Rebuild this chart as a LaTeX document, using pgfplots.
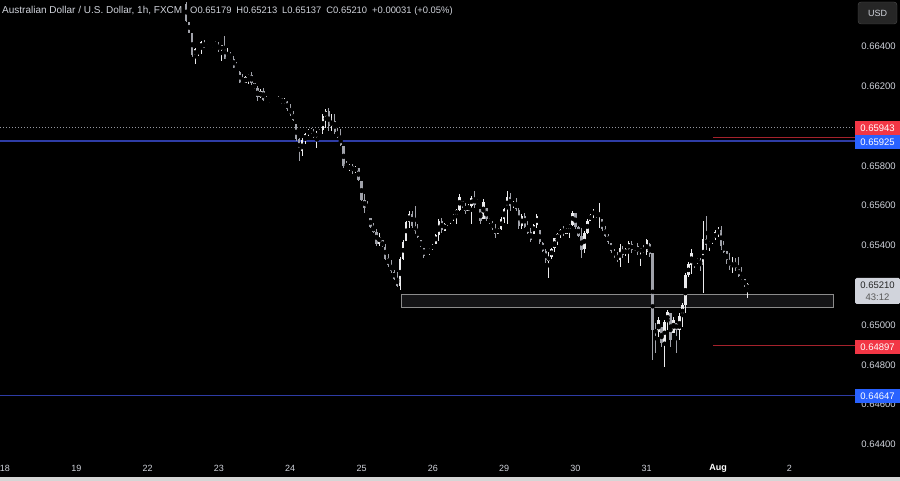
\documentclass[border=0pt]{standalone}
\usepackage{fontspec}
\setmainfont{Liberation Sans}
\usepackage{pgfplots}
\usepackage{pgfplotstable}
\pgfplotsset{compat=1.18}

\definecolor{bg}{RGB}{0,0,0}
\definecolor{txt}{RGB}{209,212,220}
\definecolor{upc}{RGB}{236,236,238}
\definecolor{dnc}{RGB}{160,162,170}
\definecolor{tvred}{RGB}{242,54,69}
\definecolor{tvblue}{RGB}{41,98,255}
\definecolor{lvlblue}{RGB}{46,60,165}
\definecolor{lvlred}{RGB}{165,34,44}
\definecolor{dotc}{RGB}{150,152,160}
\definecolor{zoneedge}{RGB}{140,140,140}
\definecolor{zonefill}{RGB}{20,20,22}

% hourly candles, x = hours since 18 Jul 00:00
\pgfplotstableread{
k o h l c
61 0.66615 0.66625 0.66525 0.66530
62 0.66525 0.66525 0.66465 0.66470
63 0.66465 0.66465 0.66350 0.66355
64 0.66355 0.66390 0.66310 0.66385
65 0.66385 0.66390 0.66350 0.66390
66 0.66390 0.66425 0.66360 0.66420
67 0.66420 0.66430 0.66390 0.66395
68 0.66395 0.66415 0.66390 0.66390
69 0.66390 0.66410 0.66385 0.66405
70 0.66405 0.66415 0.66390 0.66410
71 0.66410 0.66430 0.66400 0.66405
72 0.66405 0.66425 0.66375 0.66380
73 0.66380 0.66410 0.66325 0.66405
74 0.66405 0.66450 0.66335 0.66340
75 0.66340 0.66390 0.66335 0.66345
76 0.66345 0.66375 0.66335 0.66340
77 0.66340 0.66350 0.66290 0.66295
78 0.66295 0.66325 0.66285 0.66290
79 0.66275 0.66275 0.66215 0.66220
80 0.66220 0.66260 0.66210 0.66215
81 0.66215 0.66250 0.66215 0.66245
82 0.66245 0.66260 0.66210 0.66255
83 0.66255 0.66275 0.66210 0.66215
84 0.66215 0.66215 0.66185 0.66190
85 0.66190 0.66200 0.66125 0.66145
86 0.66145 0.66185 0.66140 0.66175
87 0.66175 0.66190 0.66125 0.66130
88 0.66130 0.66150 0.66125 0.66140
89 0.66140 0.66140 0.66115 0.66125
90 0.66125 0.66140 0.66125 0.66135
91 0.66135 0.66140 0.66125 0.66130
92 0.66130 0.66150 0.66125 0.66145
93 0.66140 0.66140 0.66110 0.66120
94 0.66120 0.66140 0.66110 0.66130
95 0.66125 0.66125 0.66075 0.66085
96 0.66085 0.66110 0.66050 0.66060
97 0.66060 0.66075 0.66025 0.66030
98 0.66010 0.66010 0.65925 0.65935
99 0.65935 0.65940 0.65825 0.65875
100 0.65875 0.65940 0.65850 0.65930
101 0.65930 0.65965 0.65910 0.65960
102 0.65960 0.65985 0.65950 0.65980
103 0.65980 0.65990 0.65960 0.65970
104 0.65970 0.65985 0.65940 0.65945
105 0.65945 0.65975 0.65890 0.65965
106 0.65965 0.65985 0.65960 0.65980
107 0.65980 0.66060 0.65960 0.66050
108 0.66050 0.66085 0.65990 0.66075
109 0.66075 0.66090 0.65975 0.66000
110 0.66000 0.66060 0.65975 0.66025
111 0.66025 0.66060 0.65960 0.65970
112 0.65970 0.65990 0.65940 0.65945
113 0.65945 0.65985 0.65900 0.65905
114 0.65900 0.65900 0.65790 0.65800
115 0.65800 0.65825 0.65785 0.65790
116 0.65790 0.65810 0.65775 0.65800
117 0.65800 0.65810 0.65760 0.65775
118 0.65775 0.65800 0.65765 0.65790
119 0.65790 0.65790 0.65725 0.65730
120 0.65725 0.65725 0.65625 0.65630
121 0.65630 0.65660 0.65565 0.65590
122 0.65590 0.65625 0.65575 0.65580
123 0.65540 0.65540 0.65490 0.65495
124 0.65495 0.65515 0.65465 0.65470
125 0.65470 0.65485 0.65400 0.65410
126 0.65410 0.65465 0.65400 0.65445
127 0.65425 0.65425 0.65390 0.65395
128 0.65395 0.65410 0.65325 0.65335
129 0.65335 0.65360 0.65290 0.65300
130 0.65300 0.65325 0.65260 0.65270
131 0.65270 0.65275 0.65225 0.65235
132 0.65235 0.65265 0.65190 0.65200
133 0.65200 0.65340 0.65175 0.65335
134 0.65335 0.65425 0.65325 0.65420
135 0.65425 0.65525 0.65425 0.65520
136 0.65520 0.65575 0.65490 0.65560
137 0.65560 0.65575 0.65490 0.65500
138 0.65500 0.65600 0.65460 0.65475
139 0.65475 0.65510 0.65440 0.65445
140 0.65425 0.65425 0.65390 0.65395
141 0.65390 0.65390 0.65340 0.65350
142 0.65360 0.65375 0.65360 0.65370
143 0.65370 0.65385 0.65350 0.65380
144 0.65380 0.65410 0.65375 0.65405
145 0.65410 0.65460 0.65410 0.65455
146 0.65455 0.65535 0.65425 0.65525
147 0.65525 0.65540 0.65460 0.65475
148 0.65475 0.65515 0.65475 0.65510
149 0.65510 0.65525 0.65500 0.65520
150 0.65520 0.65540 0.65510 0.65535
151 0.65535 0.65560 0.65525 0.65555
152 0.65555 0.65585 0.65510 0.65580
153 0.65580 0.65660 0.65575 0.65645
154 0.65625 0.65625 0.65590 0.65600
155 0.65600 0.65615 0.65560 0.65575
156 0.65575 0.65610 0.65575 0.65600
157 0.65600 0.65650 0.65510 0.65640
158 0.65640 0.65675 0.65590 0.65605
159 0.65610 0.65635 0.65610 0.65625
160 0.65585 0.65585 0.65510 0.65525
161 0.65535 0.65635 0.65535 0.65620
162 0.65590 0.65590 0.65525 0.65535
163 0.65535 0.65540 0.65510 0.65515
164 0.65515 0.65525 0.65475 0.65485
165 0.65485 0.65510 0.65440 0.65460
166 0.65460 0.65490 0.65460 0.65485
167 0.65485 0.65540 0.65475 0.65535
168 0.65535 0.65590 0.65515 0.65585
169 0.65585 0.65675 0.65510 0.65645
170 0.65645 0.65665 0.65575 0.65600
171 0.65600 0.65625 0.65590 0.65615
172 0.65615 0.65640 0.65575 0.65580
173 0.65580 0.65590 0.65485 0.65500
174 0.65500 0.65560 0.65485 0.65550
175 0.65550 0.65565 0.65490 0.65495
176 0.65495 0.65525 0.65460 0.65465
177 0.65465 0.65485 0.65415 0.65425
178 0.65460 0.65510 0.65460 0.65505
179 0.65505 0.65560 0.65490 0.65550
180 0.65475 0.65475 0.65410 0.65415
181 0.65415 0.65415 0.65365 0.65370
182 0.65370 0.65385 0.65315 0.65325
183 0.65325 0.65365 0.65235 0.65345
184 0.65345 0.65390 0.65335 0.65385
185 0.65385 0.65440 0.65365 0.65435
186 0.65435 0.65460 0.65400 0.65455
187 0.65455 0.65485 0.65440 0.65480
188 0.65480 0.65500 0.65450 0.65460
189 0.65460 0.65490 0.65460 0.65485
190 0.65485 0.65510 0.65440 0.65505
191 0.65505 0.65575 0.65500 0.65565
192 0.65565 0.65565 0.65485 0.65495
193 0.65495 0.65500 0.65440 0.65450
194 0.65450 0.65485 0.65335 0.65380
195 0.65380 0.65475 0.65365 0.65465
196 0.65465 0.65535 0.65460 0.65525
197 0.65525 0.65560 0.65525 0.65555
198 0.65555 0.65585 0.65540 0.65575
199 0.65565 0.65565 0.65540 0.65550
200 0.65550 0.65615 0.65490 0.65565
201 0.65535 0.65535 0.65475 0.65485
202 0.65485 0.65500 0.65440 0.65450
203 0.65450 0.65460 0.65410 0.65420
204 0.65415 0.65415 0.65360 0.65370
205 0.65370 0.65385 0.65340 0.65350
206 0.65350 0.65365 0.65315 0.65325
207 0.65325 0.65410 0.65290 0.65385
208 0.65385 0.65400 0.65340 0.65355
209 0.65355 0.65390 0.65350 0.65380
210 0.65380 0.65425 0.65315 0.65410
211 0.65410 0.65425 0.65360 0.65375
212 0.65375 0.65400 0.65375 0.65395
213 0.65395 0.65410 0.65350 0.65365
214 0.65365 0.65390 0.65300 0.65385
215 0.65385 0.65400 0.65360 0.65365
216 0.65365 0.65435 0.65350 0.65425
217 0.65410 0.65410 0.65340 0.65360
218 0.65360 0.65365 0.64825 0.64975
219 0.64975 0.65010 0.64860 0.64965
220 0.64965 0.65040 0.64940 0.65025
221 0.64990 0.64990 0.64890 0.64910
222 0.64910 0.65025 0.64790 0.65015
223 0.65015 0.65075 0.64975 0.65065
224 0.65060 0.65060 0.64890 0.64925
225 0.64960 0.65040 0.64960 0.65025
226 0.65010 0.65010 0.64860 0.64975
227 0.64975 0.65060 0.64925 0.65045
228 0.65045 0.65110 0.64990 0.65100
229 0.65100 0.65260 0.65060 0.65250
230 0.65250 0.65315 0.65240 0.65305
231 0.65305 0.65385 0.65260 0.65365
232 0.65325 0.65325 0.65290 0.65315
233 0.65315 0.65340 0.65310 0.65330
234 0.65330 0.65340 0.65275 0.65300
235 0.65300 0.65525 0.65160 0.65435
236 0.65435 0.65550 0.65375 0.65405
237 0.65405 0.65425 0.65375 0.65420
238 0.65420 0.65440 0.65410 0.65435
239 0.65435 0.65475 0.65425 0.65465
240 0.65465 0.65490 0.65440 0.65480
241 0.65480 0.65500 0.65375 0.65400
242 0.65400 0.65425 0.65360 0.65370
243 0.65370 0.65375 0.65310 0.65325
244 0.65325 0.65360 0.65275 0.65295
245 0.65295 0.65340 0.65260 0.65315
246 0.65315 0.65340 0.65275 0.65285
247 0.65285 0.65340 0.65240 0.65250
248 0.65250 0.65290 0.65225 0.65230
249 0.65230 0.65235 0.65190 0.65200
250 0.65179 0.65213 0.65137 0.65210
}\candles

\begin{document}
\begin{tikzpicture}
\fill[bg] (0pt,-23pt) rectangle (900pt,458pt);
\useasboundingbox (0pt,-23pt) rectangle (900pt,458pt);
\fill[black!80!white!20] (0pt,-23pt) rectangle (900pt,-19pt);
\begin{axis}[
    at={(0pt,0pt)}, anchor=south west,
    width=855pt, height=458pt, scale only axis,
    xmin=-1.683, xmax=286.1,
    ymin=0.643317, ymax=0.666332,
    clip=false,
    axis line style={draw=none},
    tick style={draw=none},
    major tick length=0pt,
    xtick={0,24,48,72,96,120,144,168,192,216,240,264},
    xticklabels={18,19,22,23,24,25,26,29,30,31,{\color{white}\bfseries Aug},2},
    xticklabel style={anchor=center, yshift=-10pt, text=txt, font=\fontsize{9}{10}\selectfont},
    ytick={0.644,0.646,0.648,0.650,0.654,0.656,0.658,0.662,0.664},
    yticklabels={0.64400,0.64600,0.64800,0.65000,0.65400,0.65600,0.65800,0.66200,0.66400},
    yticklabel pos=right,
    yticklabel style={anchor=center, xshift=23.5pt, text=txt, font=\fontsize{9.5}{10}\selectfont},
]
% demand zone
\draw[draw=zoneedge, fill=zonefill, line width=0.9pt] (axis cs:133.6,0.65090) rectangle (axis cs:278.7,0.65156);
% levels
\draw[draw=dotc, line width=0.8pt, dash pattern=on 1pt off 2pt] (axis cs:-1.683,0.65995) -- (axis cs:286.1,0.65995);
\draw[draw=lvlblue, line width=1.5pt] (axis cs:-1.683,0.65925) -- (axis cs:286.1,0.65925);
\draw[draw=lvlblue, line width=1.5pt] (axis cs:-1.683,0.64647) -- (axis cs:286.1,0.64647);
\draw[draw=lvlred, line width=1.5pt] (axis cs:238.3,0.65943) -- (axis cs:286.1,0.65943);
\draw[draw=lvlred, line width=1.5pt] (axis cs:238.3,0.64897) -- (axis cs:286.1,0.64897);
% wicks
\addplot[only marks, mark=none, forget plot,
    restrict expr to domain={\thisrow{c}-\thisrow{o}}{0:1},
    error bars/.cd, y dir=both, y explicit, error mark=none,
    error bar style={upc, line width=1pt}]
    table[x=k, y expr={(\thisrow{h}+\thisrow{l})/2}, y error expr={(\thisrow{h}-\thisrow{l})/2}] {\candles};
\addplot[only marks, mark=none, forget plot,
    restrict expr to domain={\thisrow{c}-\thisrow{o}}{-1:-0.000001},
    error bars/.cd, y dir=both, y explicit, error mark=none,
    error bar style={dnc, line width=1pt}]
    table[x=k, y expr={(\thisrow{h}+\thisrow{l})/2}, y error expr={(\thisrow{h}-\thisrow{l})/2}] {\candles};
% bodies
\addplot[only marks, mark=none, forget plot,
    restrict expr to domain={\thisrow{c}-\thisrow{o}}{0:1},
    error bars/.cd, y dir=both, y explicit, error mark=none,
    error bar style={upc, line width=2.4pt}]
    table[x=k, y expr={(\thisrow{o}+\thisrow{c})/2}, y error expr={max(abs(\thisrow{c}-\thisrow{o})/2,0.00002)}] {\candles};
\addplot[only marks, mark=none, forget plot,
    restrict expr to domain={\thisrow{c}-\thisrow{o}}{-1:-0.000001},
    error bars/.cd, y dir=both, y explicit, error mark=none,
    error bar style={dnc, line width=2.4pt}]
    table[x=k, y expr={(\thisrow{o}+\thisrow{c})/2}, y error expr={max(abs(\thisrow{c}-\thisrow{o})/2,0.00002)}] {\candles};
\end{axis}

% header
\node[anchor=west, text=txt, inner sep=0pt, font=\fontsize{10}{12}\selectfont] at (2pt,447pt)
  {Australian Dollar / U.S. Dollar, 1h, FXCM};
\node[anchor=west, text=txt, inner sep=0pt, font=\fontsize{9.4}{12}\selectfont] at (190pt,447pt)
  {O0.65179\hspace{5pt}H0.65213\hspace{5pt}L0.65137\hspace{5pt}C0.65210\hspace{5pt}+0.00031 (+0.05\%)};

% currency button
\draw[fill=black!85!white, draw=black!70!white, rounded corners=3pt] (858pt,434pt) rectangle (897pt,456pt);
\node[text=txt, font=\fontsize{9}{10}\selectfont] at (877.5pt,445pt) {USD};

% price labels on the scale
\tikzset{plabel/.style={minimum width=45pt, minimum height=14pt, inner sep=0pt, text=white, font=\fontsize{9.5}{10}\selectfont}}
\node[plabel, fill=tvred] at (877.5pt,330pt) {0.65943};
\node[plabel, fill=tvblue] at (877.5pt,316pt) {0.65925};
\node[plabel, fill=tvred] at (877.5pt,111pt) {0.64897};
\node[plabel, fill=tvblue] at (877.5pt,62pt) {0.64647};
\fill[txt, rounded corners=1.5pt] (855pt,154pt) rectangle (900pt,180pt);
\node[text=black!85, font=\fontsize{9.5}{10}\selectfont] at (877.5pt,172.5pt) {0.65210};
\node[text=black!65, font=\fontsize{9.5}{10}\selectfont] at (877.5pt,160.5pt) {43:12};
\end{tikzpicture}
\end{document}
